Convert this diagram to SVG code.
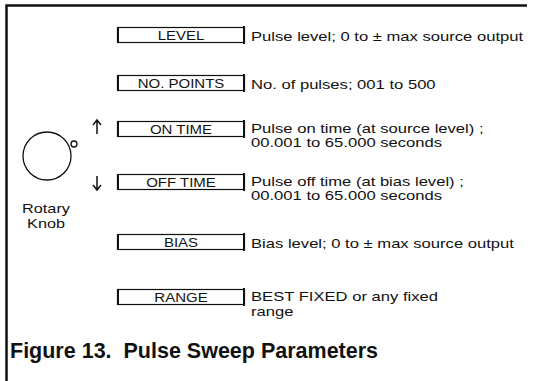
<svg xmlns="http://www.w3.org/2000/svg" width="545" height="381" viewBox="0 0 545 381">
<style>
.t{font-family:"Liberation Sans",Arial,sans-serif;font-size:12.5px;fill:#111}
.b{font-family:"Liberation Sans",Arial,sans-serif;font-size:12px;fill:#111;text-anchor:middle}
.box{fill:#fff;stroke:#111;stroke-width:1.2}
.side{stroke:#111;stroke-width:2}
.ln{stroke:#111;fill:none;stroke-width:1.5}
</style>
<rect width="545" height="381" fill="#fff"/>
<g id="frame">
<path d="M6.5 381 V5.5 H527" fill="none" stroke="#111" stroke-width="2.5"/>
</g>
<g id="knob">
<circle cx="47" cy="156" r="24" fill="none" stroke="#111" stroke-width="1.3"/>
<circle cx="74" cy="144" r="3" fill="none" stroke="#111" stroke-width="1.3"/>
<text class="t" text-anchor="middle" transform="translate(46 213) scale(1.3 1)">Rotary</text>
<text class="t" text-anchor="middle" transform="translate(46 228) scale(1.3 1)">Knob</text>
</g>
<g id="arrows">
<path class="ln" d="M97 134 V121 M93 125 L97 120 L101 125"/>
<path class="ln" d="M97 176 V189 M93 185 L97 190 L101 185"/>
</g>
<g id="level">
<rect class="box" x="117.5" y="27.5" width="127" height="15"/>
<path class="side" d="M118 27 V43 M244 26 V44"/>
<text class="b" transform="translate(181 39.5) scale(1.25 1)">LEVEL</text>
<text class="t" transform="translate(251 40.5) scale(1.33 1)">Pulse level; 0 to ± max source output</text>
</g>
<g id="nopoints">
<rect class="box" x="117.5" y="75.5" width="127" height="15"/>
<path class="side" d="M118 75 V91 M244 74 V92"/>
<text class="b" transform="translate(181 87.5) scale(1.25 1)">NO. POINTS</text>
<text class="t" transform="translate(251 88.5) scale(1.33 1)">No. of pulses; 001 to 500</text>
</g>
<g id="ontime">
<rect class="box" x="117.5" y="121.5" width="127" height="15"/>
<path class="side" d="M118 121 V137 M244 120 V138"/>
<text class="b" transform="translate(181 133.5) scale(1.25 1)">ON TIME</text>
<text class="t" transform="translate(251 132.5) scale(1.33 1)">Pulse on time (at source level) ;</text>
<text class="t" transform="translate(251 147) scale(1.33 1)">00.001 to 65.000 seconds</text>
</g>
<g id="offtime">
<rect class="box" x="117.5" y="174.5" width="127" height="15"/>
<path class="side" d="M118 174 V190 M244 173 V191"/>
<text class="b" transform="translate(181 186.5) scale(1.25 1)">OFF TIME</text>
<text class="t" transform="translate(251 185.5) scale(1.33 1)">Pulse off time (at bias level) ;</text>
<text class="t" transform="translate(251 200) scale(1.33 1)">00.001 to 65.000 seconds</text>
</g>
<g id="bias">
<rect class="box" x="117.5" y="234.5" width="127" height="15"/>
<path class="side" d="M118 234 V250 M244 233 V251"/>
<text class="b" transform="translate(181 246.5) scale(1.25 1)">BIAS</text>
<text class="t" transform="translate(251 247.5) scale(1.33 1)">Bias level; 0 to ± max source output</text>
</g>
<g id="range">
<rect class="box" x="117.5" y="289.5" width="127" height="15"/>
<path class="side" d="M118 289 V305 M244 288 V306"/>
<text class="b" transform="translate(181 301.5) scale(1.25 1)">RANGE</text>
<text class="t" transform="translate(251 301) scale(1.33 1)">BEST FIXED or any fixed</text>
<text class="t" transform="translate(251 315.5) scale(1.33 1)">range</text>
</g>
<g id="caption">
<text x="10" y="358" style="font-family:'Liberation Sans',Arial,sans-serif;font-size:21.5px;font-weight:bold;fill:#111" xml:space="preserve">Figure 13.  Pulse Sweep Parameters</text>
</g>
</svg>
